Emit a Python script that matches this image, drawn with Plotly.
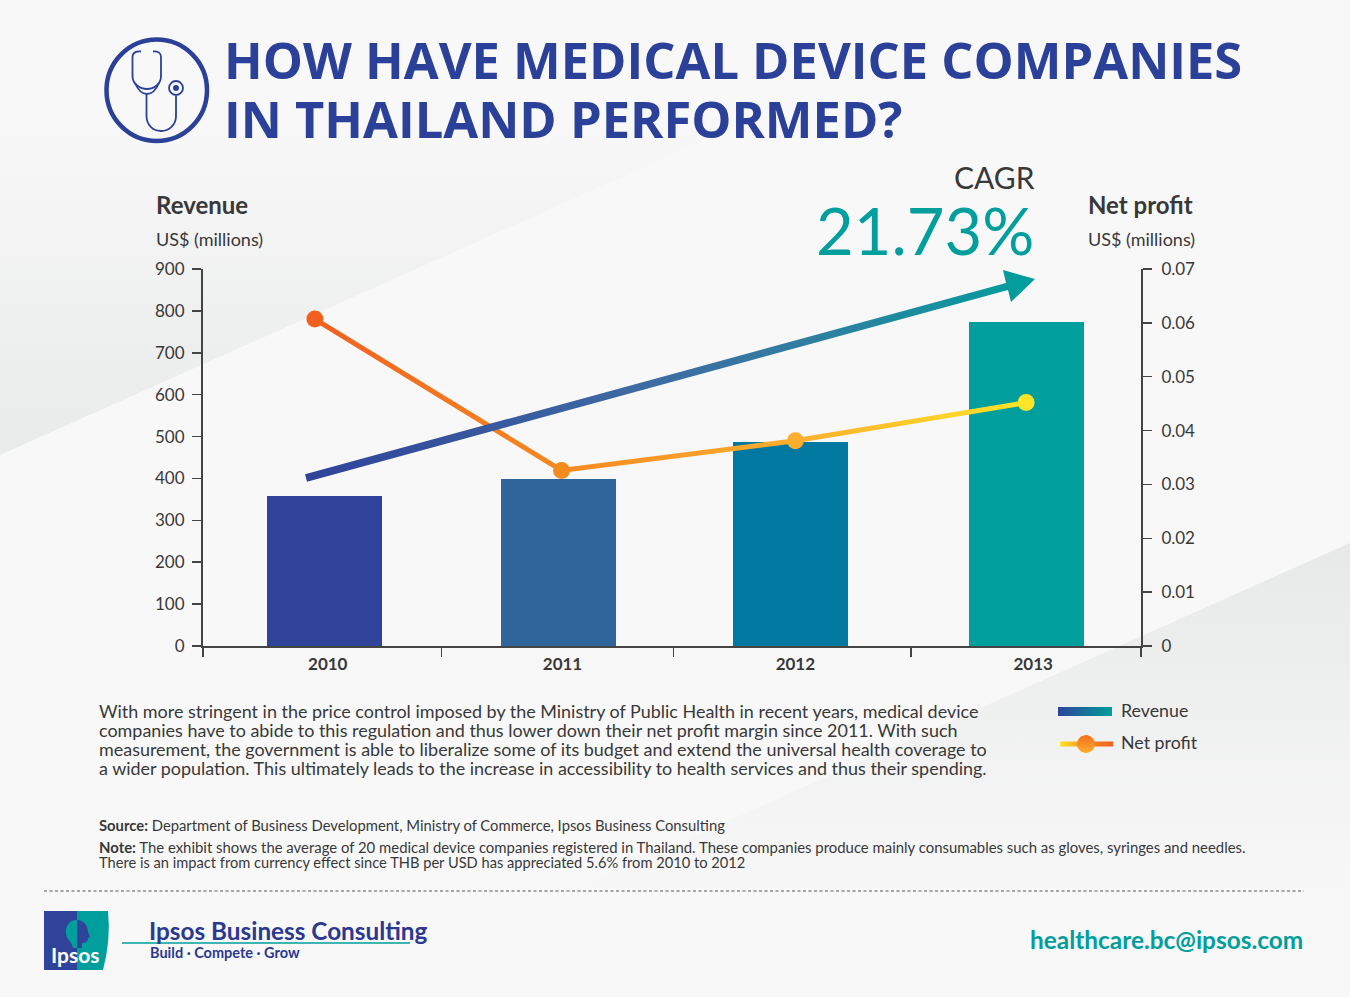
import numpy as np
import plotly.graph_objects as go

# ---------- data ----------
YEARS = ["2010", "2011", "2012", "2013"]
REVENUE = [357, 398, 488, 774]
NET_PROFIT = [0.0607, 0.0326, 0.0381, 0.0452]
REV_TICKS = [0, 100, 200, 300, 400, 500, 600, 700, 800, 900]
NP_TICKS = [0, 0.01, 0.02, 0.03, 0.04, 0.05, 0.06, 0.07]
TITLE_LINES = ["HOW HAVE MEDICAL DEVICE COMPANIES", "IN THAILAND PERFORMED?"]
BODY_LINES = [
    "With more stringent in the price control imposed by the Ministry of Public Health in recent years, medical device",
    "companies have to abide to this regulation and thus lower down their net profit margin since 2011. With such",
    "measurement, the government is able to liberalize some of its budget and extend the universal health coverage to",
    "a wider population. This ultimately leads to the increase in accessibility to health services and thus their spending.",
]
SOURCE_LINE = "<b>Source:</b> Department of Business Development, Ministry of Commerce, Ipsos Business Consulting"
NOTE_LINES = [
    "<b>Note:</b> The exhibit shows the average of 20 medical device companies registered in Thailand. These companies produce mainly consumables such as gloves, syringes and needles.",
    "There is an impact from currency effect since THB per USD has appreciated 5.6% from 2010 to 2012",
]

# ---------- style ----------
W, H = 1350, 997
BG = "#F8F8F8"
BLUE = "#2B4098"
TEAL = "#009E9C"
INK = "#383838"
BAR_COLORS = ["#2E4399", "#30659B", "#00789F", "#009E9C"]
NP_COLORS = ["#F2601F", "#F58A1F", "#FBAE2E", "#FFE427"]
FONT = "Lato"
TITLE_FONT = "Open Sans"
AXC = "#444444"
PX_L, PX_R, PX_T, PX_B = 203, 1141, 269, 646
XR = [-0.515, 3.485]
BAR_SHIFT = [0.003, 0.0, -0.008, -0.002]
LINE_SHIFT = [-0.038, 0.014, 0.011, -0.005]
LABEL_SHIFT = [0.017, 0.018, 0.011, 0.025]
X_TICKS = [-0.515, 0.503, 1.491, 2.505, 3.485]
idx = np.arange(len(YEARS))

fig = go.Figure()


def poly(xs, ys, gtype, scale, start, stop, xa="x", ya="y"):
    fig.add_trace(go.Scatter(
        x=xs, y=ys, xaxis=xa, yaxis=ya, mode="lines", fill="toself",
        line=dict(width=0), hoverinfo="skip", showlegend=False,
        fillgradient=dict(type=gtype, colorscale=scale, start=start, stop=stop)))


# background wedges
poly([0, 1018, 0, 0], [455, 0, 0, 455], "vertical",
     [[0, "rgba(233,234,234,0)"], [1, "#E9EAEA"]], 120, 455)
poly([1350, 1350, 334, 1350], [543, 997, 997, 543], "vertical",
     [[0, "#E7E8E8"], [1, "rgba(233,234,234,0)"]], 543, 900)

# bars and line
fig.add_trace(go.Bar(
    x=idx + np.array(BAR_SHIFT), y=REVENUE, width=0.491, xaxis="x2", yaxis="y2",
    marker=dict(color=BAR_COLORS, line=dict(width=0)), hoverinfo="skip", showlegend=False, name="Revenue"))
fig.add_trace(go.Scatter(
    x=idx + np.array(LINE_SHIFT), y=NET_PROFIT, xaxis="x3", yaxis="y3", mode="lines+markers",
    line=dict(width=5, color=NP_COLORS[1]), marker=dict(size=17, color=NP_COLORS, line=dict(width=0)),
    hoverinfo="skip", showlegend=False, name="Net profit"))

# CAGR arrow
poly([305, 1006, 1003, 1035, 1011, 1008, 307, 305],
     [474.3, 283, 270, 279, 302, 290, 481.7, 474.3],
     "horizontal", [[0, "#2E4399"], [0.45, "#3F6AA3"], [0.7, "#2F7FA0"], [1, TEAL]], 306, 1035, "x4", "y4")

# legend keys
poly([1058, 1112, 1112, 1058, 1058], [707, 707, 716, 716, 707], "horizontal",
     [[0, "#2E4399"], [1, TEAL]], 1058, 1112, "x4", "y4")
poly([1060, 1113, 1113, 1060, 1060], [741.5, 741.5, 746.5, 746.5, 741.5], "horizontal",
     [[0, "#FFE427"], [0.5, "#F58A1F"], [1, "#F2601F"]], 1060, 1113, "x4", "y4")
theta = np.linspace(0, 2 * np.pi, 60)
poly(1086 + 9 * np.cos(theta), 744 + 9 * np.sin(theta), "vertical",
     [[0, "#F2701F"], [1, "#FBAE2E"]], 735, 753, "x4", "y4")

# ---------- shapes ----------
shapes = []
# icon
shapes.append(dict(type="circle", x0=106.5, x1=207, y0=39.5, y1=141,
                   line=dict(color=BLUE, width=4.5), xref="x", yref="y"))
for path in [
    "M 141 51.5 Q 132.5 51 132.5 57 L 132.5 76 C 132.5 84 140 89 147 89 C 154 89 161 84 161 76 L 161 57 Q 161 51 153 51.5",
    "M 135 83 C 138 90 142 94 147 94 C 152 94 156 90 159 83",
    "M 146.5 94 L 146.5 116 C 146.5 125 153 131 161 131 C 169 131 176 125 176 116 L 176 96",
]:
    shapes.append(dict(type="path", path=path, line=dict(color=BLUE, width=1.8), xref="x", yref="y"))
shapes.append(dict(type="circle", x0=169, x1=183, y0=81, y1=95, line=dict(color=BLUE, width=1.8), xref="x", yref="y"))
shapes.append(dict(type="circle", x0=173, x1=179, y0=85, y1=91, fillcolor=BLUE, line=dict(width=0), xref="x", yref="y"))
# divider
shapes.append(dict(type="line", x0=44, x1=1304, y0=891, y1=891, line=dict(color="#555555", width=1.2, dash="3px,2.5px"),
                   xref="x", yref="y"))
# logo
shapes.append(dict(type="path", path="M 44 911 L 77 911 L 77 970 L 44 970 Z", fillcolor="#2E4399", line=dict(width=0),
                   xref="x", yref="y"))
shapes.append(dict(type="path", path="M 77 911 L 108 911 Q 111 940 103 970 L 77 970 Z", fillcolor=TEAL, line=dict(width=0),
                   xref="x", yref="y"))
shapes.append(dict(type="path", path="M 77 920 C 68 920 65 928 66 934 C 67 940 72 942 73 948 L 77 948 Z",
                   fillcolor=TEAL, line=dict(width=0), xref="x", yref="y"))
shapes.append(dict(type="path", path="M 77 920 C 84 920 88 926 88 932 L 90 937 L 88 938 C 88 942 85 943 82 943 L 82 948 L 77 948 Z",
                   fillcolor="#2E4399", line=dict(width=0), xref="x", yref="y"))
# consulting rule
shapes.append(dict(type="line", x0=122, x1=410, y0=943, y1=943, line=dict(color=TEAL, width=1.6), xref="x", yref="y"))

# ---------- text ----------
ann = []


def text(x, y, s, size, color=INK, anchor="left", family=FONT):
    ann.append(dict(x=x, y=y - 1, xref="x", yref="y", text=s, showarrow=False, xanchor=anchor, yanchor="middle",
                    font=dict(size=size, color=color, family=family), align=anchor, borderpad=0, borderwidth=0))


text(224, 60, f"<b>{TITLE_LINES[0]}</b>", 50.6, BLUE, family=TITLE_FONT)
text(224, 119, f"<b>{TITLE_LINES[1]}</b>", 50.6, BLUE, family=TITLE_FONT)
text(156, 205, "<b>Revenue</b>", 24)
text(156, 240, "US$ (millions)", 18)
text(1193, 205, "<b>Net profit</b>", 24, anchor="right")
text(1195, 240, "US$ (millions)", 18, anchor="right")
text(1035, 178, "CAGR", 30, anchor="right")
text(1034, 231, "21.73%", 65, TEAL, anchor="right")
for i, line in enumerate(BODY_LINES):
    text(99, 711.5 + i * 19.3, line, 17.95)
text(99, 825.5, SOURCE_LINE, 14.8)
text(99, 847.5, NOTE_LINES[0], 14.9)
text(99, 863.5, NOTE_LINES[1], 14.65)
text(1121, 711, "Revenue", 17.8)
text(1121, 743, "Net profit", 17.8)
text(75.5, 955, "<b>Ipsos</b>", 21, "#FFFFFF", anchor="center")
text(149, 931, "<b>Ipsos Business Consulting</b>", 24.3, "#2B3990")
text(150, 953, "<b>Build · Compete · Grow</b>", 14.5, "#2B3990")
text(1303, 940, "<b>healthcare.bc@ipsos.com</b>", 24.4, TEAL, anchor="right")

# ---------- axes ----------
dom_x = [PX_L / W, PX_R / W]
dom_y = [(H - PX_B) / H, (H - PX_T) / H]
hidden = dict(visible=False, fixedrange=True, automargin=False)
layout = dict(
    template="none",
    width=W, height=H, autosize=False, margin=dict(l=0, r=0, t=0, b=0, pad=0),
    paper_bgcolor=BG, plot_bgcolor="rgba(0,0,0,0)", hovermode=False, showlegend=False, bargap=0,
    xaxis=dict(domain=[0, 1], range=[0, W], **hidden),
    yaxis=dict(domain=[0, 1], range=[H, 0], **hidden),
    xaxis4=dict(domain=[0, 1], range=[0, W], anchor="y4", **hidden),
    yaxis4=dict(domain=[0, 1], range=[H, 0], anchor="x4", **hidden),
    xaxis2=dict(domain=dom_x, range=XR, anchor="y2", showline=True, linecolor=AXC, linewidth=2, zeroline=False,
                showgrid=False, tickmode="array", tickvals=X_TICKS, ticktext=[""] * len(X_TICKS),
                ticks="outside", ticklen=9, tickcolor=AXC, tickwidth=1.5, fixedrange=True, automargin=False),
    yaxis2=dict(domain=dom_y, range=[0, 900], anchor="x2", showline=True, linecolor=AXC, linewidth=2, zeroline=False,
                showgrid=False, tickmode="array", tickvals=REV_TICKS, ticks="outside", ticklen=9,
                tickcolor=AXC, tickwidth=1.5, ticklabelstandoff=4, fixedrange=True, automargin=False,
                tickfont=dict(size=17, color=INK, family=FONT)),
    xaxis3=dict(range=XR, overlaying="x2", anchor="y3", showgrid=False, zeroline=False, showline=False,
                tickmode="array", tickvals=idx + np.array(LABEL_SHIFT), ticktext=[f"<b>{y}</b>" for y in YEARS],
                ticks="", ticklabelstandoff=6, tickfont=dict(size=17, color=INK, family=FONT), fixedrange=True,
                automargin=False),
    yaxis3=dict(range=[0, 0.07], overlaying="y2", side="right", anchor="x3", showgrid=False, zeroline=False,
                showline=True, linecolor=AXC, linewidth=2, tickmode="array", tickvals=NP_TICKS,
                ticktext=["0"] + [f"{v:.2f}" for v in NP_TICKS[1:]], ticks="outside", ticklen=9, tickcolor=AXC,
                tickwidth=1.5, ticklabelstandoff=6, tickfont=dict(size=17, color=INK, family=FONT), fixedrange=True,
                automargin=False),
    shapes=shapes, annotations=ann,
)
fig.update_layout(**layout)

stops = "".join(f'<stop offset="{o}" stop-color="{c}"/>' for o, c in
                [(0, NP_COLORS[0]), (0.35, NP_COLORS[1]), (0.67, NP_COLORS[2]), (1, NP_COLORS[3])])
post = """
document.body.style.margin='0';
document.documentElement.style.overflow='hidden';
var svg=document.querySelector('.main-svg');
var NS='http://www.w3.org/2000/svg';
var g=document.createElementNS(NS,'linearGradient');
g.setAttribute('id','npg');g.setAttribute('x1','0');g.setAttribute('x2','1');g.setAttribute('y1','0');g.setAttribute('y2','0');
g.innerHTML='%s';
svg.querySelector('defs').appendChild(g);
document.querySelectorAll('.js-line').forEach(function(p){
  if(parseFloat(p.style.strokeWidth)===5){p.style.stroke='url(#npg)';}
});
""" % stops
fig.write_html("out.html", config=dict(displayModeBar=False, staticPlot=True), post_script=post)
